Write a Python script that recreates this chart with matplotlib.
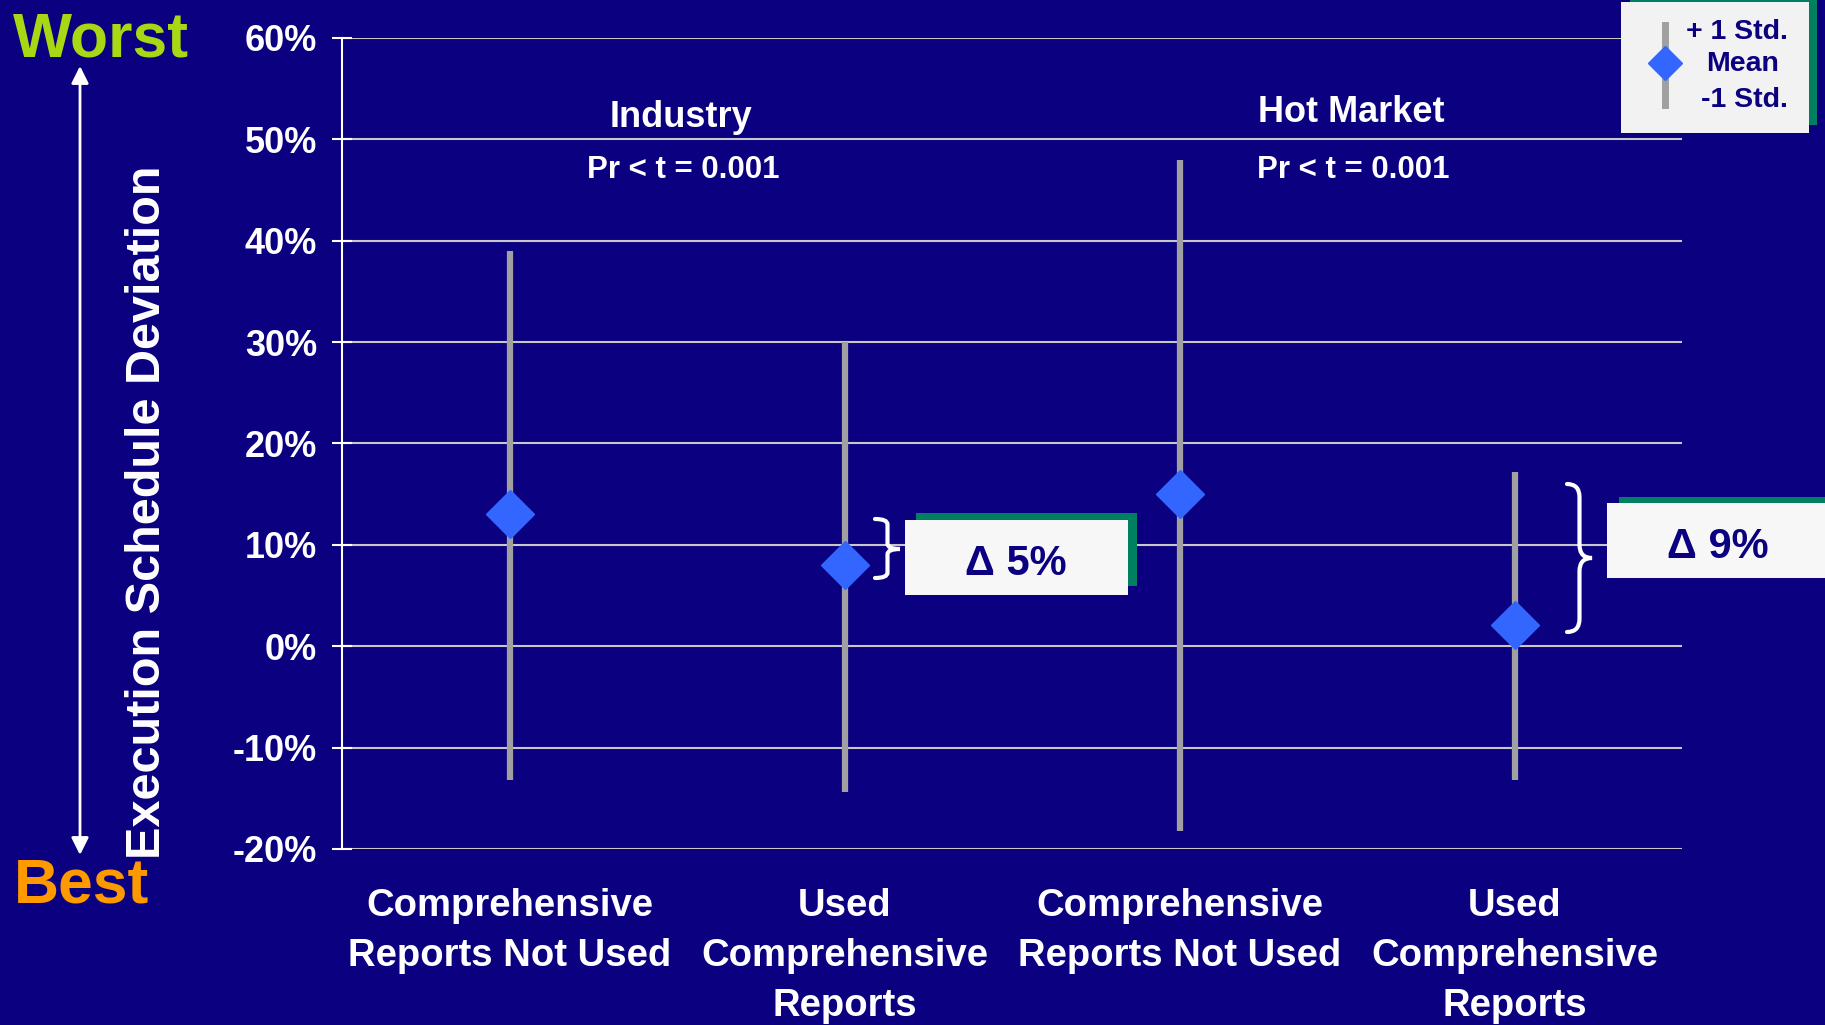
import matplotlib
matplotlib.use('Agg')
import matplotlib.pyplot as plt
from matplotlib.patches import Rectangle, FancyArrowPatch, PathPatch
from matplotlib.path import Path
from matplotlib.lines import Line2D

# data
categories = ['Comprehensive\nReports Not Used', 'Used\nComprehensive\nReports',
              'Comprehensive\nReports Not Used', 'Used\nComprehensive\nReports']
mean_vals = [13.0, 8.0, 15.0, 2.1]
upper_vals = [39.0, 30.0, 48.0, 17.2]
lower_vals = [-13.2, -14.4, -18.2, -13.2]
y_ticks = [-20, -10, 0, 10, 20, 30, 40, 50, 60]
group_names = ['Industry', 'Hot Market']
group_pvals = ['Pr < t = 0.001', 'Pr < t = 0.001']
group_centers = [1.5, 3.5]
legend_labels = ['+ 1 Std.', 'Mean', '-1 Std.']
delta_labels = ['\u0394 5%', '\u0394 9%']

plt.rcParams['font.family'] = ['Liberation Sans', 'DejaVu Sans']
plt.rcParams['font.weight'] = 'bold'

NAVY = '#0B0080'
BLUE = '#3366FF'
GREY = '#A0A0A0'
GREEN = '#008060'

W, H = 1825, 1025
fig = plt.figure(figsize=(W / 100, H / 100), dpi=100, facecolor=NAVY)


def fx(px):
    return px / W


def fy(py):
    return 1 - py / H


def box(x0, y0, x1, y1, color, z=5):
    r = Rectangle((fx(x0), fy(y1)), (x1 - x0) / W, (y1 - y0) / H,
                  transform=fig.transFigure, facecolor=color, edgecolor='none', zorder=z)
    fig.add_artist(r)


def brace(x0, w, yt, ym, yb):
    r = (ym - yt) * 0.18
    xs = x0 + w / 2
    pts = [(x0, yt), (xs, yt), (xs, yt + r), (xs, ym - r), (xs, ym), (x0 + w, ym),
           (xs, ym), (xs, ym + r), (xs, yb - r), (xs, yb), (x0, yb)]
    codes = [Path.MOVETO, Path.CURVE3, Path.CURVE3, Path.LINETO, Path.CURVE3, Path.CURVE3,
             Path.CURVE3, Path.CURVE3, Path.LINETO, Path.CURVE3, Path.CURVE3]
    p = Path([(fx(a), fy(b)) for a, b in pts], codes)
    fig.add_artist(PathPatch(p, transform=fig.transFigure, facecolor='none',
                             edgecolor='white', lw=3, capstyle='round'))


ax = fig.add_axes([342 / W, 1 - 849 / H, (1682 - 342) / W, (849 - 38) / H])
ax.set_facecolor(NAVY)
x = list(range(1, len(categories) + 1))

ax.vlines(x, lower_vals, upper_vals, color=GREY, lw=4.5, zorder=3)
ax.plot(x, mean_vals, 'D', color=BLUE, ms=24, ls='none', zorder=4)

ax.set_xlim(0.5, 4.5)
ax.set_ylim(-20, 60)
ax.set_yticks(y_ticks)
ax.set_yticklabels(['{}%'.format(v) for v in y_ticks])
ax.set_xticks(x)
ax.set_xticklabels(categories, linespacing=1.5)
ax.yaxis.grid(True, color='#C8C8C8', lw=1.5)
ax.set_axisbelow(True)
for s in ['top', 'right', 'bottom']:
    ax.spines[s].set_visible(False)
ax.spines['left'].set_color('white')
ax.spines['left'].set_linewidth(1.5)
ax.tick_params(axis='y', colors='white', labelsize=26, direction='inout',
               length=14, width=1.5, pad=11)
ax.tick_params(axis='x', colors='white', labelsize=27.5, length=0, pad=28)

for c, name, pv, ty in zip(group_centers, group_names, group_pvals, [52.2, 52.7]):
    ax.text(c + 0.012, ty, name, ha='center', va='center', color='white', fontsize=26)
    ax.text(c + 0.02, 47.0, pv, ha='center', va='center', color='white', fontsize=22.5)

# side annotations
fig.text(148 / W, fy(512), 'Execution Schedule Deviation', rotation=90, ha='center',
         va='center', color='white', fontsize=35)
fig.text(fx(13), fy(40), 'Worst', color='#A8D814', fontsize=45, va='center')
fig.text(fx(14), fy(886), 'Best', color='#FF9900', fontsize=45, va='center')
fig.add_artist(FancyArrowPatch((fx(80), fy(66)), (fx(80), fy(855)),
                               transform=fig.transFigure,
                               arrowstyle='<|-|>,head_length=0.4,head_width=0.2',
                               mutation_scale=26, color='white', lw=2,
                               shrinkA=0, shrinkB=0))

# legend box
box(1630, -10, 1817, 125, GREEN)
box(1621, 2, 1809, 133, '#F2F2F2', z=6)
fig.add_artist(Line2D([fx(1665), fx(1665)], [fy(25), fy(105)], transform=fig.transFigure,
                      color=GREY, lw=5, zorder=7))
fig.add_artist(Line2D([fx(1665)], [fy(63)], transform=fig.transFigure, marker='D',
                      ms=17.5, color=BLUE, zorder=8))
for lab, cx, cy in zip(legend_labels, [1737, 1743, 1744], [32, 64, 100]):
    fig.text(fx(cx), fy(cy), lab, ha='center', va='center', color=NAVY,
             fontsize=20.5, zorder=9)

# delta boxes
box(916, 513, 1137, 586, GREEN)
box(905, 520, 1128, 595, '#F7F7F7', z=6)
fig.text(fx(1016), fy(564), delta_labels[0], ha='center', va='center', color=NAVY,
         fontsize=30, zorder=9)
brace(875, 25, 519, 549, 578)

box(1619, 497, 1830, 570, GREEN)
box(1607, 503, 1830, 578, '#F7F7F7', z=6)
fig.text(fx(1718), fy(547), delta_labels[1], ha='center', va='center', color=NAVY,
         fontsize=30, zorder=9)
brace(1567, 25, 484, 558, 632)

fig.savefig('out.png', dpi=100, facecolor=NAVY)
